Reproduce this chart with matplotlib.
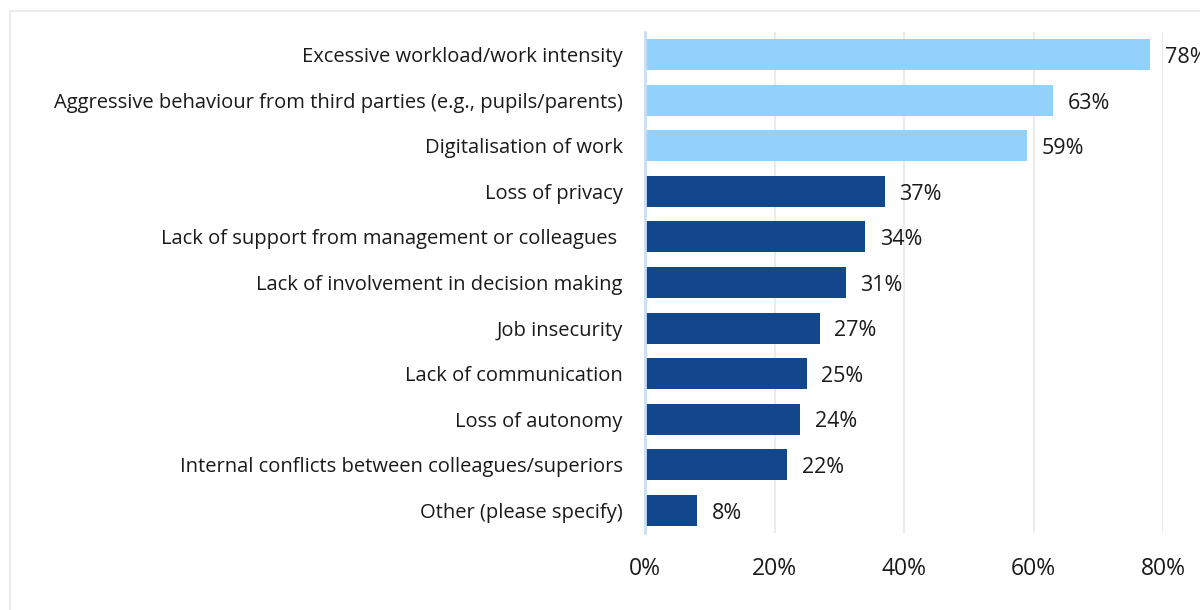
import matplotlib.pyplot as plt
from matplotlib.patches import Rectangle

plt.rcParams["font.family"] = ["Open Sans", "DejaVu Sans"]

CATEGORIES = [
    "Excessive workload/work intensity",
    "Aggressive behaviour from third parties (e.g., pupils/parents)",
    "Digitalisation of work",
    "Loss of privacy",
    "Lack of support from management or colleagues ",
    "Lack of involvement in decision making",
    "Job insecurity",
    "Lack of communication",
    "Loss of autonomy",
    "Internal conflicts between colleagues/superiors",
    "Other (please specify)",
]
VALUES = [78, 63, 59, 37, 34, 31, 27, 25, 24, 22, 8]
HIGHLIGHT = [True, True, True, False, False, False, False, False, False, False, False]
X_TICKS = [0, 20, 40, 60, 80]

LIGHT_BLUE = "#92d1fb"
DARK_BLUE = "#13478b"


def main() -> None:
    fig = plt.figure(figsize=(12, 6.1), dpi=100)

    # thin grey frame around the chart area (right/bottom run off the canvas)
    fig.patches.append(
        Rectangle((10 / 1200, -0.05), 1.2, 1.05 - 11 / 610, transform=fig.transFigure,
                  fill=False, edgecolor="#ececec", linewidth=1.5)
    )

    ax = fig.add_axes([645 / 1200, 1 - 533 / 610, (1163 - 645) / 1200, 501 / 610])

    colors = [LIGHT_BLUE if h else DARK_BLUE for h in HIGHLIGHT]
    ypos = list(range(len(CATEGORIES)))
    bars = ax.barh(ypos, VALUES, height=0.68, color=colors, zorder=3)

    for bar, v in zip(bars, VALUES):
        ax.annotate(f"{v}%", xy=(bar.get_width(), bar.get_y() + bar.get_height() / 2),
                    xytext=(10.5, -2), textcoords="offset points",
                    va="center", ha="left", fontsize=15.5, color="#1a1a1a",
                    annotation_clip=False)

    ax.set_xlim(0, 80)
    ax.set_ylim(len(CATEGORIES) - 0.5, -0.5)
    ax.set_yticks(ypos)
    ax.set_yticklabels(CATEGORIES, fontsize=14.5, color="#1a1a1a")
    ax.set_xticks(X_TICKS)
    ax.set_xticklabels([f"{t}%" for t in X_TICKS], fontsize=16.5, color="#1a1a1a")
    ax.tick_params(axis="both", length=0)
    ax.tick_params(axis="y", pad=16)
    ax.tick_params(axis="x", pad=17)

    for t in X_TICKS[1:]:
        ax.axvline(t, color="#ebebeb", linewidth=1.5, zorder=1)

    for side in ["top", "right", "bottom"]:
        ax.spines[side].set_visible(False)
    ax.spines["left"].set_color("#c9def6")
    ax.spines["left"].set_linewidth(2)
    ax.spines["left"].set_zorder(4)

    fig.savefig("out.png", dpi=100)
    plt.close(fig)


if __name__ == "__main__":
    main()
